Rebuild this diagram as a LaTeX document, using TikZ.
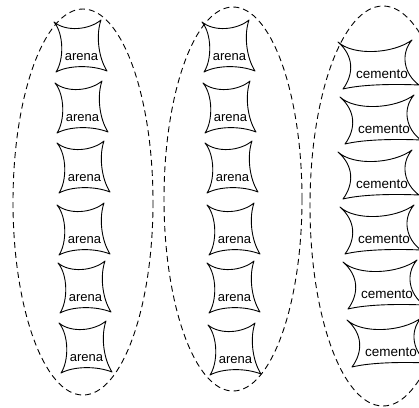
\documentclass[tikz,border=0pt]{standalone}
\usepackage{fontspec}
\setmainfont{Liberation Sans}
\tikzset{
  blobline/.style={draw=black, line width=0.9pt, line join=round},
  ring/.style={draw=black, line width=0.9pt, dash pattern=on 6pt off 4pt},
  lbla/.style={anchor=base, inner sep=0pt, font=\fontsize{13}{15}\selectfont},
  lblc/.style={anchor=base, inner sep=0pt, font=\fontsize{13.5}{16}\selectfont},
}
\newcommand\arenablob[3]{%
  \begin{scope}[shift={(#2,#3)}]
    \draw[blobline] (0,0) .. controls (12,10) and (35,8) .. (47,-2)
      .. controls (42,12) and (44,35) .. (53,49)
      .. controls (38,43) and (15,43) .. (2,50)
      .. controls (10,38) and (10,12) .. (0,0) -- cycle;
    \node[lbla] (#1) at (27.5,38) {arena};
  \end{scope}}
\newcommand\cementoblob[3]{%
  \begin{scope}[shift={(#2,#3)}]
    \draw[blobline] (0,0) .. controls (15,14) and (55,12) .. (74,-2)
      .. controls (62,12) and (66,32) .. (81,43)
      .. controls (60,42) and (25,42) .. (5,47)
      .. controls (16,32) and (16,14) .. (0,0) -- cycle;
    \node[lblc] (#1) at (44,36) {cemento};
  \end{scope}}
\begin{document}
\begin{tikzpicture}[x=1pt,y=-1pt]
  \useasboundingbox (0,0) rectangle (419,407);
  \clip (0,0) rectangle (419,407);
  % groups
  \draw[ring] (83,202) ellipse [x radius=70, y radius=193];
  \draw[ring] (233,199) ellipse [x radius=69, y radius=192];
  \draw[ring] (383,206) ellipse [x radius=73, y radius=200];
  % column 1
  \arenablob{a1}{54}{22}
  \arenablob{a2}{55}{83}
  \arenablob{a3}{57}{143}
  \arenablob{a4}{57}{205}
  \arenablob{a5}{58}{263}
  \arenablob{a6}{59}{323}
  % column 2
  \arenablob{b1}{202}{22}
  \arenablob{b2}{203}{83}
  \arenablob{b3}{205}{143}
  \arenablob{b4}{207}{205}
  \arenablob{b5}{207}{263}
  \arenablob{b6}{208}{325}
  % column 3
  \cementoblob{c1}{338}{42}
  \cementoblob{c2}{340}{97}
  \cementoblob{c3}{338}{152}
  \cementoblob{c4}{340}{207}
  \cementoblob{c5}{343}{262}
  \cementoblob{c6}{347}{320}
\end{tikzpicture}
\end{document}
